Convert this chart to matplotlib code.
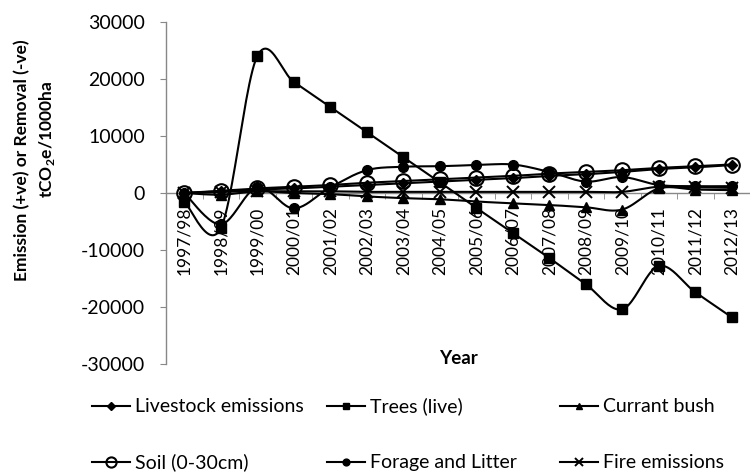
import numpy as np
import matplotlib
matplotlib.use("Agg")
import matplotlib.pyplot as plt
from matplotlib.lines import Line2D

plt.rcParams['font.family'] = ['Lato', 'DejaVu Sans']

years = ["1997/98", "1998/99", "1999/00", "2000/01", "2001/02", "2002/03",
         "2003/04", "2004/05", "2005/06", "2006/07", "2007/08", "2008/09",
         "2009/10", "2010/11", "2011/12", "2012/13"]

livestock = [0, 300, 600, 800, 1100, 1400, 1700, 2000, 2300, 2600, 3000, 3300,
             3700, 4200, 4500, 4900]
trees = [-1500, -6200, 24000, 19500, 15100, 10700, 6300, 1900, -2600, -7000,
         -11400, -16000, -20400, -12800, -17400, -21800]
currant = [0, -300, 300, 0, -200, -600, -900, -1100, -1500, -1800, -2100,
           -2500, -2900, 800, 600, 500]
soil = [0, 400, 800, 1100, 1400, 1800, 2100, 2400, 2700, 3000, 3400, 3700,
        4000, 4400, 4700, 5000]
forage = [0, -5500, 1000, -2700, 1000, 4000, 4600, 4700, 4900, 5000, 3700,
          2000, 2800, 1400, 1200, 1200]
fire = [0, 200, 300, 300, 300, 200, 200, 200, 200, 200, 200, 200, 200, 1100,
        1000, 900]

series = [
    ("Livestock emissions", livestock, dict(marker="D", ms=5.5, mfc="black")),
    ("Trees (live)", trees, dict(marker="s", ms=7, mfc="black")),
    ("Currant bush", currant, dict(marker="^", ms=7, mfc="black")),
    ("Soil (0-30cm)", soil, dict(marker="o", ms=10.5, mfc="none", mew=1.5)),
    ("Forage and Litter", forage, dict(marker="o", ms=7, mfc="black")),
    ("Fire emissions", fire, dict(marker="x", ms=8.5, mew=1.4)),
]


def smooth(xs, ys, n=24):
    """Catmull-Rom style cubic Bezier through the points."""
    xs = np.asarray(xs, float)
    ys = np.asarray(ys, float)
    px = np.concatenate([[xs[0]], xs, [xs[-1]]])
    py = np.concatenate([[ys[0]], ys, [ys[-1]]])
    outx, outy = [], []
    t = np.linspace(0, 1, n)
    for i in range(len(xs) - 1):
        p0x, p0y = px[i + 1], py[i + 1]
        p3x, p3y = px[i + 2], py[i + 2]
        c1x = p0x + (px[i + 2] - px[i]) / 6
        c1y = p0y + (py[i + 2] - py[i]) / 6
        c2x = p3x - (px[i + 3] - px[i + 1]) / 6
        c2y = p3y - (py[i + 3] - py[i + 1]) / 6
        b0 = (1 - t) ** 3
        b1 = 3 * (1 - t) ** 2 * t
        b2 = 3 * (1 - t) * t ** 2
        b3 = t ** 3
        outx.extend(b0 * p0x + b1 * c1x + b2 * c2x + b3 * p3x)
        outy.extend(b0 * p0y + b1 * c1y + b2 * c2y + b3 * p3y)
    return np.array(outx), np.array(outy)


W, H = 750, 473
fig = plt.figure(figsize=(W / 100, H / 100), dpi=100)


def fx(px):
    return px / W


def fy(py):
    return 1 - py / H


ax = fig.add_axes([fx(166), fy(364), fx(750 - 166), (364 - 22) / H])

x = np.arange(len(years))
for name, vals, style in series:
    sx, sy = smooth(x, vals)
    ax.plot(sx, sy, color="black", lw=1.5, zorder=3, clip_on=False)
    ax.plot(x, vals, ls="none", color="black", zorder=4, clip_on=False,
            **style)

ax.set_xlim(-0.5, len(years) - 0.5)
ax.set_ylim(-30000, 30000)
ax.set_yticks(np.arange(-30000, 30001, 10000))
ax.set_yticklabels([str(v) for v in range(-30000, 30001, 10000)], fontsize=14)

grey = "#888888"
for s in ["top", "right"]:
    ax.spines[s].set_visible(False)
ax.spines["left"].set_color(grey)
ax.spines["left"].set_linewidth(1.0)
ax.spines["bottom"].set_color(grey)
ax.spines["bottom"].set_linewidth(1.0)
ax.spines["bottom"].set_position(("data", 0))
ax.spines["bottom"].set_zorder(1)
ax.tick_params(axis="y", colors=grey, length=4, labelcolor="black", pad=11)

ax.set_xticks(x)
ax.set_xticklabels(years, rotation=90, fontsize=12.5, va="top")
ax.set_xticks(np.arange(-0.5, len(years), 1.0), minor=True)
ax.tick_params(axis="x", which="major", length=0, pad=10, labelcolor="black")
ax.tick_params(axis="x", which="minor", length=4, direction="out",
               color=grey)

fig.text(fx(458), fy(358), "Year", ha="center", va="center",
         fontsize=13.5, fontweight="bold")

# two-line axis title for the value axis
fig.text(fx(22), fy(160), "Emission (+ve) or Removal (-ve)",
         rotation=90, ha="center", va="center", fontsize=12.5,
         fontweight="bold")
fig.text(fx(47), fy(139), "tCO$_\\mathregular{2}$e/1000ha",
         rotation=90, ha="center", va="center", fontsize=12.5,
         fontweight="bold")

# legend: three columns of two rows, laid out in figure pixels
col_x = [92, 327, 560]
row_y = [406, 462]
order = [[0, 3], [1, 4], [2, 5]]
handle_len = 38
for cx, pair in zip(col_x, order):
    for ry, k in zip(row_y, pair):
        name, vals, style = series[k]
        st = dict(style)
        st["ms"] = st["ms"] * 0.7
        fig.add_artist(Line2D([fx(cx), fx(cx + handle_len)], [fy(ry), fy(ry)],
                              transform=fig.transFigure, color="black",
                              lw=1.5))
        fig.add_artist(Line2D([fx(cx + handle_len / 2)], [fy(ry)],
                              transform=fig.transFigure, color="black",
                              ls="none", **st))
        fig.text(fx(cx + handle_len + 5), fy(ry), name, ha="left",
                 va="center", fontsize=14)

fig.savefig("out.png", dpi=100)
